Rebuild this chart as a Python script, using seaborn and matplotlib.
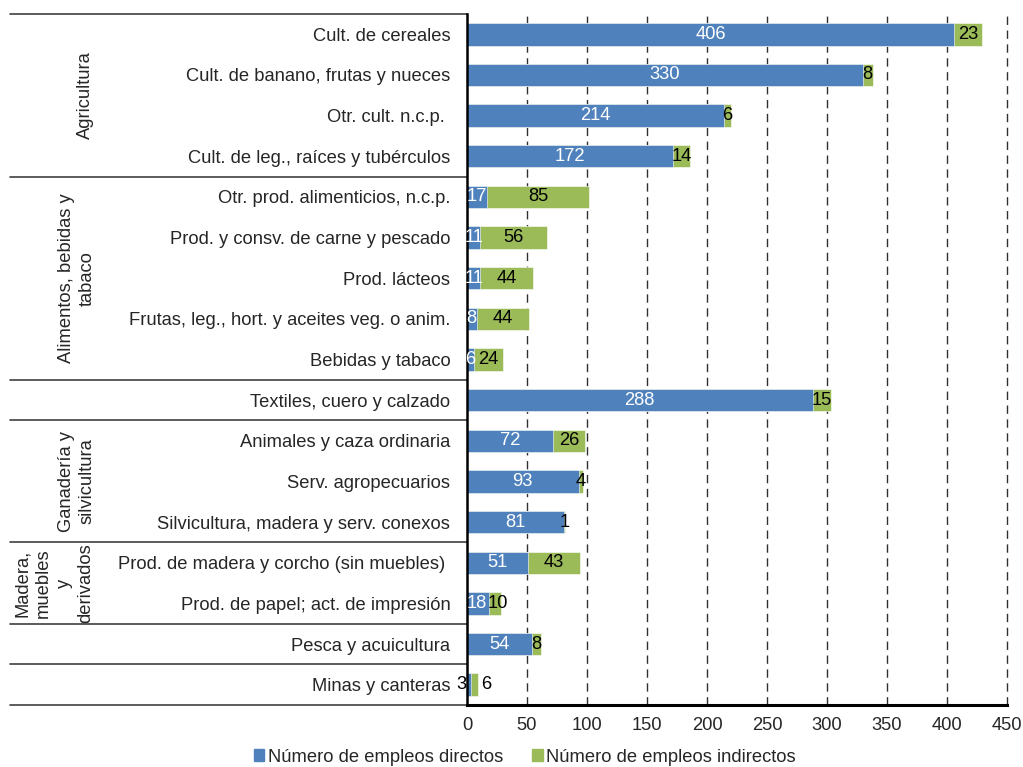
import numpy as np
import pandas as pd
import matplotlib
matplotlib.use("Agg")
import matplotlib.pyplot as plt
import seaborn as sns


# ----------------------- Data
sectores = [
    "Cult. de cereales",
    "Cult. de banano, frutas y nueces",
    "Otr. cult. n.c.p. ",
    "Cult. de leg., raíces y tubérculos",
    "Otr. prod. alimenticios, n.c.p.",
    "Prod. y consv. de carne y pescado",
    "Prod. lácteos",
    "Frutas, leg., hort. y aceites veg. o anim.",
    "Bebidas y tabaco",
    "Textiles, cuero y calzado",
    "Animales y caza ordinaria",
    "Serv. agropecuarios",
    "Silvicultura, madera y serv. conexos",
    "Prod. de madera y corcho (sin muebles) ",
    "Prod. de papel; act. de impresión",
    "Pesca y acuicultura",
    "Minas y canteras",
]
directos = [406, 330, 214, 172, 17, 11, 11, 8, 6, 288, 72, 93, 81, 51, 18, 54, 3]
indirectos = [23, 8, 6, 14, 85, 56, 44, 44, 24, 15, 26, 4, 1, 43, 10, 8, 6]

grupos = ["Agricultura", "Alimentos, bebidas y\ntabaco", "Ganadería y\nsilvicultura",
          "Madera,\nmuebles\ny\nderivados"]
grupo_filas = [(0, 3), (4, 8), (10, 12), (13, 14)]
separadores = [-0.5, 3.5, 8.5, 9.5, 12.5, 14.5, 15.5, 16.5]

df = pd.DataFrame({"Sector": sectores, "Directos": directos, "Indirectos": indirectos})
df["Total"] = df["Directos"] + df["Indirectos"]

azul = "#4F81BD"
verde = "#9BBB59"
fs = 13.2

# ----------------------- Figure
sns.set_style("white")
plt.rcParams["font.family"] = ["Liberation Sans", "DejaVu Sans"]

fig = plt.figure(figsize=(10.23, 7.67), dpi=100)
ax = fig.add_axes([467 / 1023, 1 - 705 / 767, 540 / 1023, 691 / 767])

# stacked bars: total in green, direct on top in blue
sns.barplot(data=df, y="Sector", x="Total", color=verde, orient="h",
            width=0.55, saturation=1, ax=ax, edgecolor="white", linewidth=0.4)
sns.barplot(data=df, y="Sector", x="Directos", color=azul, orient="h",
            width=0.55, saturation=1, ax=ax, edgecolor="white", linewidth=0.4)

ax.set_xlim(0, 450)
ax.set_xticks(np.arange(0, 451, 50))
ax.set_ylim(16.5, -0.5)
ax.set_xlabel("")
ax.set_ylabel("")

for xg in range(50, 451, 50):
    ax.axvline(xg, color="#303030", lw=1, dashes=(6, 4), zorder=0, clip_on=False)

ax.tick_params(axis="x", direction="out", length=5, width=1.2, color="black",
               labelsize=fs, pad=4)
ax.tick_params(axis="y", length=0, labelsize=fs, pad=12)

for side in ["top", "right"]:
    ax.spines[side].set_visible(False)
ax.spines["left"].set_color("black")
ax.spines["left"].set_linewidth(1.8)
ax.spines["bottom"].set_color("black")
ax.spines["bottom"].set_linewidth(2.2)

# ----------------------- Labels on bars
for i, (d, ind) in enumerate(zip(directos, indirectos)):
    if sectores[i] == "Minas y canteras":
        ax.text(-0.8, i, str(d), ha="right", va="center", fontsize=fs,
                color="black", clip_on=False)
        ax.text(d + ind + 3, i, str(ind), ha="left", va="center", fontsize=fs,
                color="black")
        continue
    # small nudge where two narrow labels touch (papel row)
    tight = d < 25 and ind < 15
    ax.text(d / 2 - (0.8 if tight else 0), i, str(d), ha="center", va="center",
            fontsize=fs, color="white")
    ax.text(d + ind / 2 + (2.6 if tight else 0), i, str(ind), ha="center",
            va="center", fontsize=fs, color="black")

# ----------------------- Group separators and labels
x_left = (10 - 467) / 540
trans = ax.get_yaxis_transform()
for s in separadores:
    ax.plot([x_left, 0], [s, s], color="#404040", lw=1.2, transform=trans,
            clip_on=False)

grupo_x = [85, 77, 77, 54]
for g, (a, b), px in zip(grupos, grupo_filas, grupo_x):
    ax.text((px - 467) / 540, (a + b) / 2, g, rotation=90, ha="center",
            va="center", multialignment="center", fontsize=fs,
            transform=trans, linespacing=1.3)

# ----------------------- Legend
handles = [plt.Rectangle((0, 0), 1, 1, color=azul),
           plt.Rectangle((0, 0), 1, 1, color=verde)]
fig.legend(handles, ["Número de empleos directos", "Número de empleos indirectos"],
           loc="center", bbox_to_anchor=(525 / 1023, 1 - 757 / 767), ncol=2,
           frameon=False, fontsize=fs, handlelength=0.55, handleheight=0.55,
           handletextpad=0.2, columnspacing=1.6)

fig.savefig("out.png", dpi=100)
